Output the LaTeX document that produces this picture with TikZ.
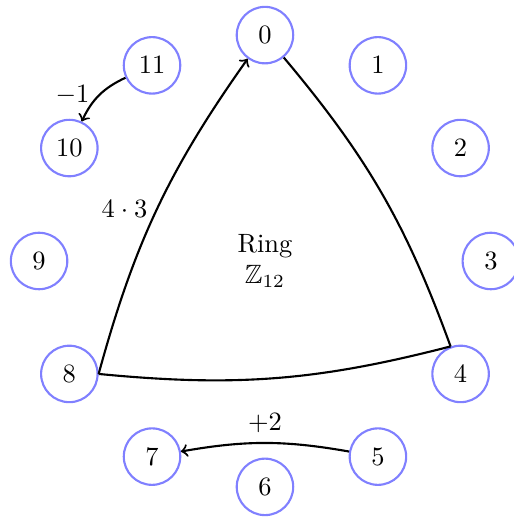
\documentclass[tikz,border=0pt]{standalone}
\usepackage{amssymb}
\begin{document}
\begin{tikzpicture}[
  ringnode/.style={circle, draw=blue!50, thick, minimum size=0.75cm, inner sep=0pt},
  edgeline/.style={thick},
  lbl/.style={inner sep=3.33pt}
]
\useasboundingbox (-3.519,-3.400) rectangle (3.307,3.466);
\foreach \i in {0,...,11} {
  \node[ringnode] (n\i) at ({90-30*\i}:3) {$\i$};
}
\node[align=center] (ring) at (0,0) {Ring\\$\mathbb{Z}_{12}$};
\draw[edgeline,->] (n8.east) to[bend left=10] node[midway,left,lbl] (l43) {$4\cdot 3$} (n0);
\draw[edgeline] (n8.east) to[bend right=10] (n4.110);
\draw[edgeline] (n4) to[bend right=10] (n0);
\draw[edgeline,->] (n11) to[bend right=20] node[midway,left,lbl] (lm1) {$-1$} (n10);
\draw[edgeline,->] (n5) to[bend right=10] node[midway,above,lbl] (lp2) {$+2$} (n7);
\end{tikzpicture}
\end{document}
